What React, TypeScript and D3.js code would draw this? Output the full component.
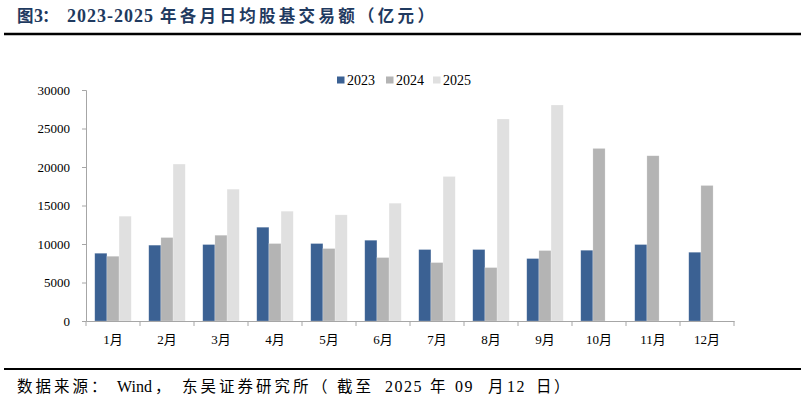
import React, { useEffect, useRef } from 'react';
import * as d3 from 'd3';

const months = ['1月', '2月', '3月', '4月', '5月', '6月', '7月', '8月', '9月', '10月', '11月', '12月'];
const seriesNames = ['2023', '2024', '2025'];
const v2023 = [8800, 9850, 9930, 12180, 10060, 10490, 9280, 9280, 8110, 9190, 9930, 8930];
const v2024 = [8410, 10840, 11140, 10060, 9410, 8240, 7590, 6940, 9150, 22410, 21460, 17600];
const v2025: (number | null)[] = [13610, 20380, 17120, 14260, 13790, 15300, 18770, 26230, 28050, null, null, null];
const yTicks = [0, 5000, 10000, 15000, 20000, 25000, 30000];
const colors = ['#3b6193', '#b4b4b4', '#e0e0e0'];

const W = 805;
const H = 403;
const serif = '"Liberation Serif", "Times New Roman", "Noto Sans CJK SC", serif';
const cjk = '"Noto Sans CJK SC", sans-serif';

type Run = { t: string; x: number; c?: boolean; ls?: number; fs?: number };

// title and source text pieces (Latin in serif, Chinese in the CJK font)
const titleRuns: Run[] = [
  { t: '图', x: 17, c: true },
  { t: '3', x: 34 },
  { t: '：', x: 42, c: true },
  { t: '2023-2025', x: 67, ls: 1 },
  { t: '年各月日均股基交易额（亿元）', x: 160, c: true, ls: 3.3 },
];
const sourceRuns: Run[] = [
  { t: '数据来源：', x: 17, c: true, ls: 3 },
  { t: 'Wind', x: 117 },
  { t: '，', x: 155, c: true },
  { t: '东吴证券研究所', x: 182, c: true, ls: 3 },
  { t: '（', x: 312, c: true },
  { t: '截至', x: 337, c: true, ls: 3 },
  { t: '2025', x: 385, ls: 1.5 },
  { t: '年', x: 430, c: true },
  { t: '09', x: 455, ls: 1.5 },
  { t: '月', x: 488, c: true },
  { t: '12', x: 507, ls: 1.5 },
  { t: '日', x: 536, c: true },
  { t: '）', x: 554, c: true },
];

const App: React.FC = () => {
  const svgRef = useRef<SVGSVGElement>(null);

  useEffect(() => {
    if (!svgRef.current) return;
    const svg = d3.select(svgRef.current);
    svg.selectAll('*').remove();

    const margin = { top: 90, left: 86, right: 71, bottom: 82 };
    const innerW = W - margin.left - margin.right;
    const innerH = H - margin.top - margin.bottom;

    const drawRuns = (y: number, runs: Run[], latinSize: number, cjkSize: number, color: string, weight: string) => {
      const t = svg.append('text').attr('y', y).attr('fill', color).attr('font-weight', weight);
      runs.forEach(r => {
        t.append('tspan')
          .attr('x', r.x)
          .attr('font-family', r.c ? cjk : serif)
          .attr('font-size', r.fs || (r.c ? cjkSize : latinSize))
          .attr('letter-spacing', r.ls || 0)
          .text(r.t);
      });
    };

    drawRuns(22, titleRuns, 18, 16.5, '#1f3a60', 'bold');

    svg.append('line')
      .attr('x1', 4).attr('x2', 801)
      .attr('y1', 34).attr('y2', 34)
      .attr('stroke', '#000').attr('stroke-width', 2.5);

    svg.append('line')
      .attr('x1', 4).attr('x2', 801)
      .attr('y1', 369).attr('y2', 369)
      .attr('stroke', '#000').attr('stroke-width', 2);

    drawRuns(392, sourceRuns, 16, 15.5, '#000', 'normal');

    const g = svg.append('g').attr('transform', `translate(${margin.left},${margin.top})`);

    const x = d3.scaleBand().domain(months).range([0, innerW]).paddingInner(0).paddingOuter(0);
    const x1 = d3.scaleBand().domain(seriesNames).range([0, x.bandwidth()]).paddingOuter(0.72).paddingInner(0);
    const y = d3.scaleLinear().domain([0, 30000]).range([innerH, 0]);

    const rows = months.map((m, i) => ({ m, vals: [v2023[i], v2024[i], v2025[i]] }));

    const groups = g.selectAll('g.grp')
      .data(rows)
      .enter()
      .append('g')
      .attr('class', 'grp')
      .attr('transform', d => `translate(${x(d.m) || 0},0)`);

    groups.selectAll('rect')
      .data(d => d.vals.map((v, k) => ({ v, k })).filter(e => e.v != null))
      .enter()
      .append('rect')
      .attr('x', d => x1(seriesNames[d.k]) || 0)
      .attr('y', d => y(d.v as number))
      .attr('width', x1.bandwidth())
      .attr('height', d => innerH - y(d.v as number))
      .attr('fill', d => colors[d.k])
      .attr('stroke', '#ffffff')
      .attr('stroke-opacity', 0.35)
      .attr('stroke-width', 0.6);

    // y axis
    const yAxis = g.append('g')
      .call(d3.axisLeft(y).tickValues(yTicks).tickSize(4).tickPadding(12).tickFormat(d => String(d)));
    yAxis.select('.domain').attr('stroke', '#a6a6a6');
    yAxis.selectAll('.tick line').attr('stroke', '#a6a6a6');
    yAxis.selectAll('.tick text')
      .attr('font-family', serif)
      .attr('font-size', 13)
      .attr('fill', '#000');

    // x axis
    const xAxis = g.append('g')
      .attr('transform', `translate(0,${innerH})`)
      .call(d3.axisBottom(x).tickSize(0).tickPadding(14));
    xAxis.select('.domain').attr('stroke', '#a6a6a6');
    xAxis.selectAll('.tick text')
      .attr('font-family', serif)
      .attr('font-size', 13)
      .attr('fill', '#000');

    const bounds = [...months.map(m => x(m) || 0), innerW];
    g.selectAll('line.sep')
      .data(bounds)
      .enter()
      .append('line')
      .attr('class', 'sep')
      .attr('x1', d => d).attr('x2', d => d)
      .attr('y1', innerH).attr('y2', innerH + 5)
      .attr('stroke', '#a6a6a6');

    // legend
    const legX = [337, 386, 433];
    const leg = svg.append('g');
    seriesNames.forEach((s, k) => {
      leg.append('rect')
        .attr('x', legX[k]).attr('y', 76.5)
        .attr('width', 7.5).attr('height', 7)
        .attr('fill', colors[k]);
      leg.append('text')
        .attr('x', legX[k] + 10)
        .attr('y', 84.5)
        .attr('font-family', serif)
        .attr('font-size', 14)
        .attr('fill', '#000')
        .text(s);
    });
  }, []);

  return (
    <div style={{ position: 'absolute', left: 0, top: 0 }}>
      <svg ref={svgRef} width={W} height={H} style={{ background: '#fff', display: 'block' }} />
    </div>
  );
};

export default App;
